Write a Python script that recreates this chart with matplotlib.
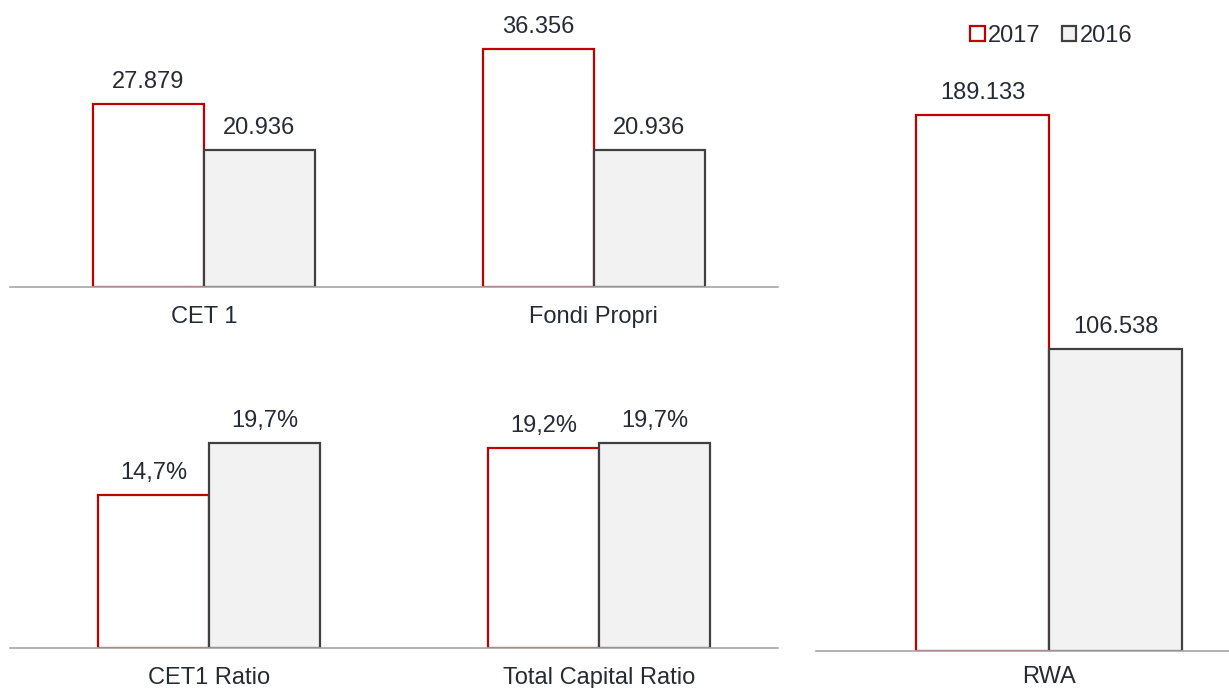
import matplotlib.pyplot as plt
from matplotlib.patches import Patch

plt.rcParams['font.family'] = ['Liberation Sans', 'DejaVu Sans']

# capital figures (EUR thousands)
capital_labels = ['CET 1', 'Fondi Propri']
capital_2017 = [27879, 36356]
capital_2016 = [20936, 20936]

ratio_labels = ['CET1 Ratio', 'Total Capital Ratio']
ratio_2017 = [14.7, 19.2]
ratio_2016 = [19.7, 19.7]

rwa_labels = ['RWA']
rwa_2017 = [189133]
rwa_2016 = [106538]

years = ['2017', '2016']

RED = '#c00000'
GREY_EDGE = '#404040'
GREY_FILL = '#f2f2f2'
TEXT = '#262b33'
BASE = '#a6a6a6'
W = 0.2846


def thousands(v):
    return f'{v:,.0f}'.replace(',', '.')


def percent(v):
    return f'{v:.1f}%'.replace('.', ',')


def draw(ax, labels, a, b, fmt, pad=14):
    x = list(range(len(labels)))
    b1 = ax.bar([i - W / 2 for i in x], a, W, color='white', edgecolor=RED, linewidth=1.6)
    b2 = ax.bar([i + W / 2 for i in x], b, W, color=GREY_FILL, edgecolor=GREY_EDGE, linewidth=1.6)
    ax.bar_label(b1, labels=[fmt(v) for v in a], padding=8, fontsize=17, color=TEXT)
    ax.bar_label(b2, labels=[fmt(v) for v in b], padding=8, fontsize=17, color=TEXT)
    ax.set_xticks(x)
    ax.set_xticklabels(labels, fontsize=17, color=TEXT)
    ax.tick_params(axis='x', length=0, pad=pad)
    ax.set_yticks([])
    for s in ['top', 'right', 'left']:
        ax.spines[s].set_visible(False)
    ax.spines['bottom'].set_color(BASE)
    ax.spines['bottom'].set_linewidth(1.2)


fig = plt.figure(figsize=(12.29, 6.88), dpi=100)
FW, FH = 1229, 688


def axes_px(x0, x1, y0, y1):
    # pixel box (top-left origin) -> figure fraction
    return fig.add_axes([x0 / FW, 1 - y1 / FH, (x1 - x0) / FW, (y1 - y0) / FH])


ax1 = axes_px(10, 778, 0, 287)
draw(ax1, capital_labels, capital_2017, capital_2016, thousands)
ax1.set_ylim(0, 43840)
ax1.set_xlim(-0.497, 1.472)

ax2 = axes_px(10, 778, 340, 648)
draw(ax2, ratio_labels, ratio_2017, ratio_2016, percent)
ax2.set_ylim(0, 29.6)
ax2.set_xlim(-0.510, 1.459)

ax3 = axes_px(816, 1229, 0, 651)
draw(ax3, rwa_labels, rwa_2017, rwa_2016, thousands, pad=11)
ax3.set_ylim(0, 229700)
ax3.set_xlim(-0.499, 0.385)

handles = [Patch(facecolor='white', edgecolor=RED, linewidth=1.6),
           Patch(facecolor=GREY_FILL, edgecolor=GREY_EDGE, linewidth=1.6)]
fig.legend(handles, years, loc='center', bbox_to_anchor=(0.8555, 0.9475), ncol=2,
           frameon=False, fontsize=17, handlelength=0.6, handleheight=0.6,
           handletextpad=0.15, columnspacing=0.9, labelcolor=TEXT)

fig.savefig('out.png', dpi=100)
